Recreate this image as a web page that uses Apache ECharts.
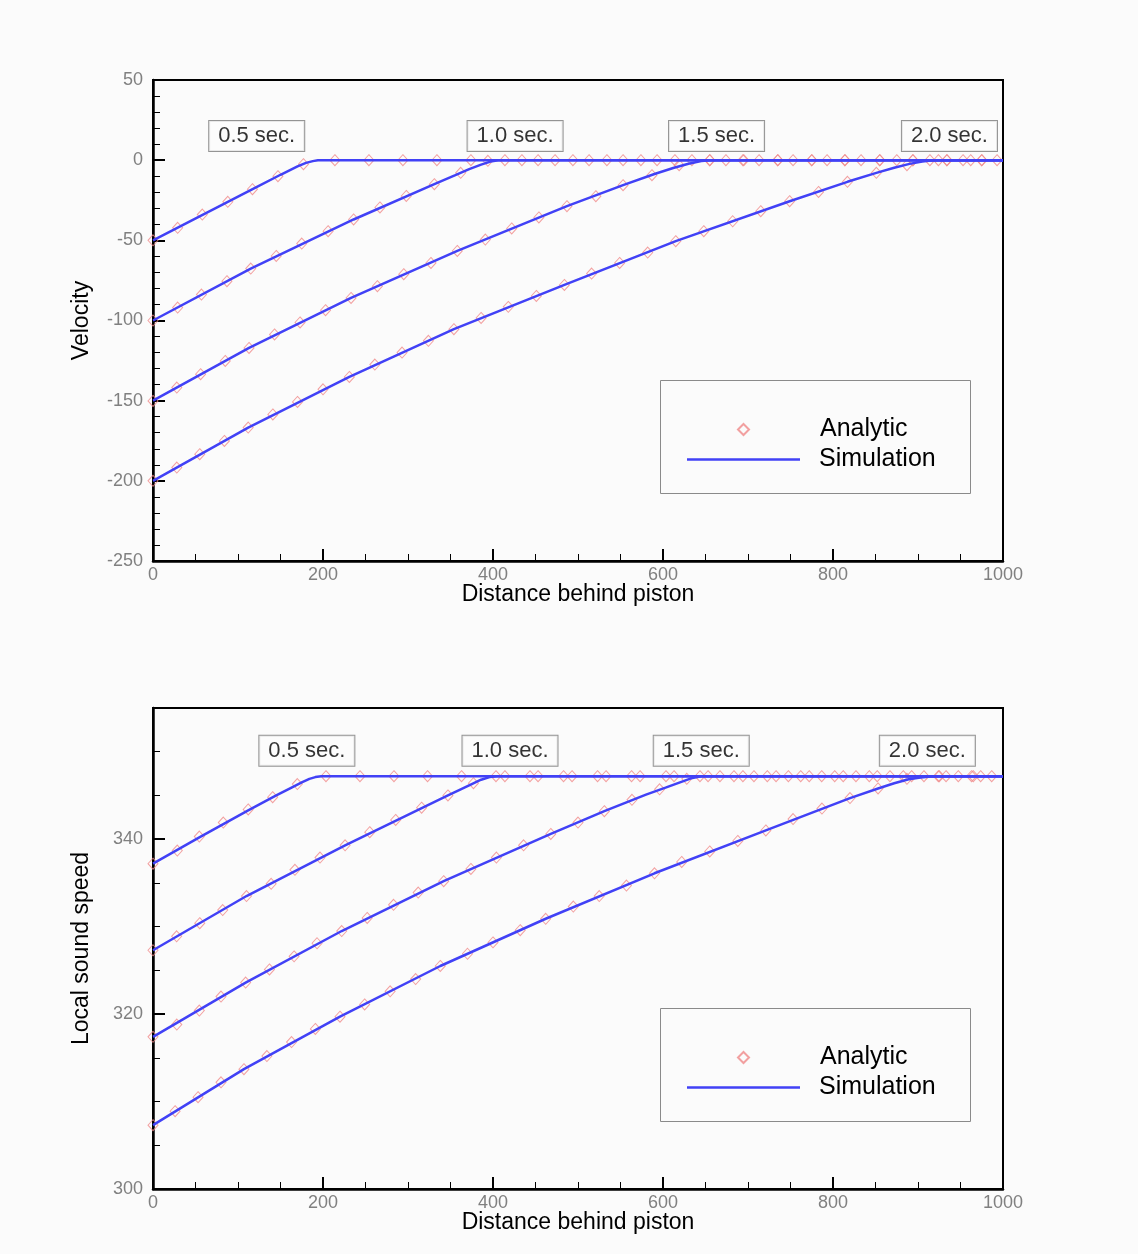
<!DOCTYPE html>
<html>
<head>
<meta charset="utf-8">
<title>Piston expansion: velocity and sound speed</title>
<script src="https://cdn.jsdelivr.net/npm/echarts@6/dist/echarts.min.js"></script>
<style>
  html, body { margin: 0; padding: 0; background: #fbfbfb; }
  #chart { width: 1138px; height: 1254px; }
</style>
</head>
<body>
<div id="chart"></div>
<script>
// ---- data ----
const timeLabels = ['0.5 sec.', '1.0 sec.', '1.5 sec.', '2.0 sec.'];

// velocity plot, analytic markers
const distV05 = [0, 29, 58, 88, 117, 147, 177, 214, 254, 294, 334, 374, 414, 453, 494, 534, 574, 614, 655, 694, 735, 775, 814, 855, 894, 934, 975];
const velV05 = [-50, -42.2, -33.9, -26, -18.1, -10, -2.5, 0, 0, 0, 0, 0, 0, 0, 0, 0, 0, 0, 0, 0, 0, 0, 0, 0, 0, 0, 0];
const distV10 = [0, 29, 57, 87, 115, 145, 175, 206, 236, 267, 298, 331, 362, 394, 434, 473, 513, 553, 593, 634, 674, 713, 753, 793, 833, 875, 914, 953, 993];
const velV10 = [-100, -91.9, -83.8, -75.5, -67.6, -59.7, -52, -44.3, -37, -29.5, -22.3, -15, -7.9, -0.4, 0, 0, 0, 0, 0, 0, 0, 0, 0, 0, 0, 0, 0, 0, 0];
const distV15 = [0, 28, 56, 85, 113, 143, 173, 203, 233, 264, 295, 327, 358, 391, 422, 454, 487, 521, 553, 587, 619, 655, 695, 735, 775, 814, 855, 894, 934, 975];
const velV15 = [-150.2, -141.8, -133.5, -125.2, -117.1, -108.7, -101.2, -93.6, -85.9, -78.6, -71.1, -64.1, -56.6, -49.5, -42.6, -35.7, -28.7, -22.5, -15.6, -9.4, -3.1, 0, 0, 0, 0, 0, 0, 0, 0, 0];
const distV20 = [0, 28, 55, 84, 112, 141, 170, 200, 231, 261, 293, 324, 354, 386, 418, 451, 484, 516, 549, 582, 615, 648, 682, 715, 749, 783, 817, 851, 887, 924, 962];
const velV20 = [-200, -191.7, -183.4, -175.1, -166.8, -158.6, -150.8, -142.9, -135.2, -127.5, -120, -112.7, -105.4, -98.4, -91.5, -84.7, -77.8, -70.7, -64.1, -57.6, -50.5, -44.3, -38.1, -31.8, -25.6, -19.8, -13.5, -7.9, -3.1, 0, 0];

// velocity plot, simulation curves
const simDistV05 = [0, 60, 120, 150, 170, 180, 188, 194, 200, 1000];
const simVelV05 = [-50, -33.6, -17.3, -9.1, -3.9, -1.7, -0.6, -0.1, 0, 0];
const simDistV10 = [0, 115, 236, 331, 355, 372, 386, 397, 406, 1000];
const simVelV10 = [-100, -67.6, -37, -15, -9.5, -5.6, -2.8, -0.9, 0, 0];
const simDistV15 = [0, 113, 233, 358, 487, 553, 590, 612, 630, 645, 656, 1000];
const simVelV15 = [-150, -117.1, -85.9, -56.6, -28.7, -15.6, -8.6, -4.9, -2.2, -0.6, 0, 0];
const simDistV20 = [0, 112, 231, 354, 484, 615, 749, 817, 851, 872, 890, 905, 918, 928, 1000];
const simVelV20 = [-200, -166.8, -135.2, -105.4, -77.8, -50.5, -25.6, -13.5, -7.9, -4.7, -2.3, -0.8, -0.1, 0, 0];

// sound speed plot, analytic markers
const distC05 = [0, 28.6, 54.5, 82.7, 112, 140.8, 169.8, 203.5, 243.5, 283.5, 323, 363, 403.5, 443.5, 483, 523, 563, 603.5, 643.5, 683.5, 722.7, 762, 802, 842.7, 882.7, 924, 965];
const speedC05 = [337.2, 338.7, 340.3, 341.9, 343.4, 344.8, 346.3, 347.2, 347.2, 347.2, 347.2, 347.2, 347.2, 347.2, 347.2, 347.2, 347.2, 347.2, 347.2, 347.2, 347.2, 347.2, 347.2, 347.2, 347.2, 347.2, 347.2];
const distC10 = [0, 27.8, 55, 82, 110, 139, 167, 196.5, 226, 255, 285.5, 316, 347, 377, 414, 453, 493, 533, 573, 613, 653, 694, 733, 772, 812, 852, 892.5, 933, 973.7];
const speedC10 = [327.3, 328.9, 330.4, 331.9, 333.5, 334.9, 336.5, 337.9, 339.3, 340.8, 342.2, 343.6, 345, 346.4, 347.2, 347.2, 347.2, 347.2, 347.2, 347.2, 347.2, 347.2, 347.2, 347.2, 347.2, 347.2, 347.2, 347.2, 347.2];
const distC15 = [0, 28, 54.5, 80, 109, 137, 166, 193, 222, 252, 283, 312, 342, 374, 404, 436, 468, 500, 531, 563.5, 596, 628, 667, 707, 747.5, 786.7, 827, 867, 907, 947.4, 986.7];
const speedC15 = [317.4, 318.8, 320.4, 322, 323.6, 325.1, 326.6, 328.1, 329.5, 331, 332.5, 333.9, 335.2, 336.6, 337.9, 339.3, 340.6, 341.9, 343.2, 344.5, 345.7, 346.9, 347.2, 347.2, 347.2, 347.2, 347.2, 347.2, 347.2, 347.2, 347.2];
const distC20 = [0, 26, 53, 80, 107, 134, 163, 191, 220, 249, 279, 309, 338, 370, 400, 432, 462, 494.5, 525, 557, 590, 622, 655, 688, 721, 753, 787, 820, 853, 887, 925, 963];
const speedC20 = [307.3, 308.9, 310.5, 312.2, 313.7, 315.2, 316.8, 318.3, 319.7, 321.1, 322.6, 324, 325.5, 326.9, 328.2, 329.6, 330.9, 332.3, 333.5, 334.7, 336.1, 337.4, 338.6, 339.8, 341, 342.3, 343.5, 344.7, 345.8, 346.9, 347.2, 347.2];

// sound speed plot, simulation curves
const simDistC05 = [0, 54.5, 112, 145, 163, 175, 184, 191, 198, 1000];
const simSpeedC05 = [337.2, 340.2, 343.3, 345, 345.9, 346.5, 346.9, 347.1, 347.2, 347.2];
const simDistC10 = [0, 110, 226, 347, 362, 375, 386, 396, 405, 1000];
const simSpeedC10 = [327.3, 333.5, 339.3, 345, 345.7, 346.3, 346.8, 347.1, 347.2, 347.2];
const simDistC15 = [0, 109, 222, 342, 468, 531, 580, 603, 620, 633, 645, 1000];
const simSpeedC15 = [317.4, 323.6, 329.5, 335.2, 340.6, 343.2, 345.1, 345.9, 346.5, 346.95, 347.2, 347.2];
const simDistC20 = [0, 107, 220, 338, 462, 590, 721, 820, 853, 872, 889, 903, 915, 925, 1000];
const simSpeedC20 = [307.3, 313.7, 319.7, 325.5, 330.9, 336.1, 341, 344.7, 345.8, 346.4, 346.85, 347.05, 347.17, 347.2, 347.2];

// where the time boxes sit, in data units
const velLabelX = [122, 426, 663, 937];
const velLabelY = 15;
const speedLabelX = [181, 420, 645, 911];
const speedLabelY = 350.1;

// ---- styling ----
const tickFont = 'Liberation Sans, Arial, sans-serif';
const markerColor = '#f08a8a';
const lineColor = '#4141f6';

const zip = (xs, ys) => xs.map((x, i) => [x, ys[i]]);

function analytic(xs, ys, xi, yi) {
  return {
    type: 'scatter', name: 'Analytic',
    xAxisIndex: xi, yAxisIndex: yi,
    symbol: 'diamond', symbolSize: [10, 11],
    itemStyle: { color: 'rgba(0,0,0,0)', borderColor: markerColor, borderWidth: 1 },
    z: 2, silent: true,
    data: zip(xs, ys)
  };
}

function simulation(xs, ys, xi, yi) {
  return {
    type: 'line', name: 'Simulation',
    xAxisIndex: xi, yAxisIndex: yi,
    symbol: 'none', showSymbol: false, smooth: false,
    itemStyle: { color: lineColor },
    lineStyle: { color: lineColor, width: 2.5 },
    z: 3, silent: true,
    data: zip(xs, ys)
  };
}

function timeBoxes(xs, y, xi, yi) {
  return {
    type: 'scatter', name: 'times',
    xAxisIndex: xi, yAxisIndex: yi,
    symbolSize: 0, z: 5, silent: true,
    label: {
      show: true, position: 'inside',
      formatter: p => p.name,
      fontFamily: tickFont, fontSize: 22, color: '#000',
      backgroundColor: '#fcfcfc', borderColor: '#7a7a7a', borderWidth: 1,
      padding: [5, 9, 3, 9]
    },
    data: xs.map((x, i) => ({ name: timeLabels[i], value: [x, y] }))
  };
}

function xAxisFor(gridIndex) {
  return {
    type: 'value', gridIndex,
    min: 0, max: 1000, interval: 200,
    name: 'Distance behind piston', nameLocation: 'middle', nameGap: 22,
    nameMoveOverlap: false,
    nameTextStyle: { fontFamily: tickFont, fontSize: 23, color: '#000' },
    axisLine: { onZero: false, lineStyle: { color: '#000', width: 2.5 } },
    axisTick: { inside: true, length: 12, lineStyle: { color: '#000', width: 2 } },
    minorTick: { show: true, splitNumber: 4, length: 7, lineStyle: { color: '#000', width: 1 } },
    axisLabel: { color: '#808080', fontFamily: tickFont, fontSize: 18, margin: 5, formatter: v => String(v) },
    splitLine: { show: false }
  };
}

// legend: one component per entry so the diamond keeps its shape
const legendText = { fontFamily: tickFont, fontSize: 25, color: '#000' };
function legendPair(top) {
  return [
    {
      left: 737, top: top + 37, orient: 'vertical',
      data: ['Analytic'], itemWidth: 11, itemHeight: 11,
      selectedMode: false, padding: 0,
      textStyle: Object.assign({ padding: [0, 0, 0, 66] }, legendText)
    },
    {
      left: 687, top: top + 67, orient: 'vertical',
      data: [{ name: 'Simulation', icon: 'rect', itemStyle: { color: lineColor } }],
      itemWidth: 113, itemHeight: 2.5,
      selectedMode: false, padding: 0,
      textStyle: Object.assign({ padding: [0, 0, 0, 14] }, legendText)
    }
  ];
}
function legendBox(top) {
  return {
    type: 'rect', left: 660, top, silent: true, z: 0,
    shape: { width: 310, height: 113 },
    style: { fill: '#fbfbfb', stroke: '#8a8a8a', lineWidth: 1 }
  };
}

const chart = echarts.init(document.getElementById('chart'), null, { renderer: 'canvas' });

chart.setOption({
  animation: false,
  backgroundColor: '#fbfbfb',
  grid: [
    { left: 153, top: 80, width: 850, height: 481, show: true, borderColor: '#000', borderWidth: 2, backgroundColor: 'transparent', outerBoundsMode: 'none' },
    { left: 153, top: 708, width: 850, height: 481, show: true, borderColor: '#000', borderWidth: 2, backgroundColor: 'transparent', outerBoundsMode: 'none' }
  ],
  graphic: [legendBox(380), legendBox(1008)],
  legend: legendPair(380).concat(legendPair(1008)),
  xAxis: [xAxisFor(0), xAxisFor(1)],
  yAxis: [
    {
      type: 'value', gridIndex: 0, position: 'left',
      min: -250, max: 50, interval: 50,
      name: 'Velocity', nameLocation: 'middle', nameGap: 60, nameMoveOverlap: false,
      nameTextStyle: { fontFamily: tickFont, fontSize: 23, color: '#000' },
      axisLine: { onZero: false, lineStyle: { color: '#000', width: 2.5 } },
      axisTick: { inside: true, length: 12, lineStyle: { color: '#000', width: 2 } },
      minorTick: { show: true, splitNumber: 5, length: 7, lineStyle: { color: '#000', width: 1 } },
      axisLabel: { color: '#808080', fontFamily: tickFont, fontSize: 18, margin: 10 },
      splitLine: { show: false }
    },
    {
      type: 'value', gridIndex: 1, position: 'left',
      min: 300, max: 355, interval: 20,
      name: 'Local sound speed', nameLocation: 'middle', nameGap: 60, nameMoveOverlap: false,
      nameTextStyle: { fontFamily: tickFont, fontSize: 23, color: '#000' },
      axisLine: { onZero: false, lineStyle: { color: '#000', width: 2.5 } },
      axisTick: { inside: true, length: 12, lineStyle: { color: '#000', width: 2 } },
      axisLabel: { color: '#808080', fontFamily: tickFont, fontSize: 18, margin: 10, showMaxLabel: false },
      splitLine: { show: false }
    },
    {
      // minor ticks every 5 for the sound speed axis
      type: 'value', gridIndex: 1, position: 'left',
      min: 300, max: 355, interval: 5,
      axisLine: { show: false },
      axisTick: { inside: true, length: 7, lineStyle: { color: '#000', width: 1 } },
      axisLabel: { show: false },
      splitLine: { show: false }
    }
  ],
  series: [
    analytic(distV05, velV05, 0, 0),
    analytic(distV10, velV10, 0, 0),
    analytic(distV15, velV15, 0, 0),
    analytic(distV20, velV20, 0, 0),
    simulation(simDistV05, simVelV05, 0, 0),
    simulation(simDistV10, simVelV10, 0, 0),
    simulation(simDistV15, simVelV15, 0, 0),
    simulation(simDistV20, simVelV20, 0, 0),
    timeBoxes(velLabelX, velLabelY, 0, 0),

    analytic(distC05, speedC05, 1, 1),
    analytic(distC10, speedC10, 1, 1),
    analytic(distC15, speedC15, 1, 1),
    analytic(distC20, speedC20, 1, 1),
    simulation(simDistC05, simSpeedC05, 1, 1),
    simulation(simDistC10, simSpeedC10, 1, 1),
    simulation(simDistC15, simSpeedC15, 1, 1),
    simulation(simDistC20, simSpeedC20, 1, 1),
    timeBoxes(speedLabelX, speedLabelY, 1, 1)
  ]
});
</script>
</body>
</html>
